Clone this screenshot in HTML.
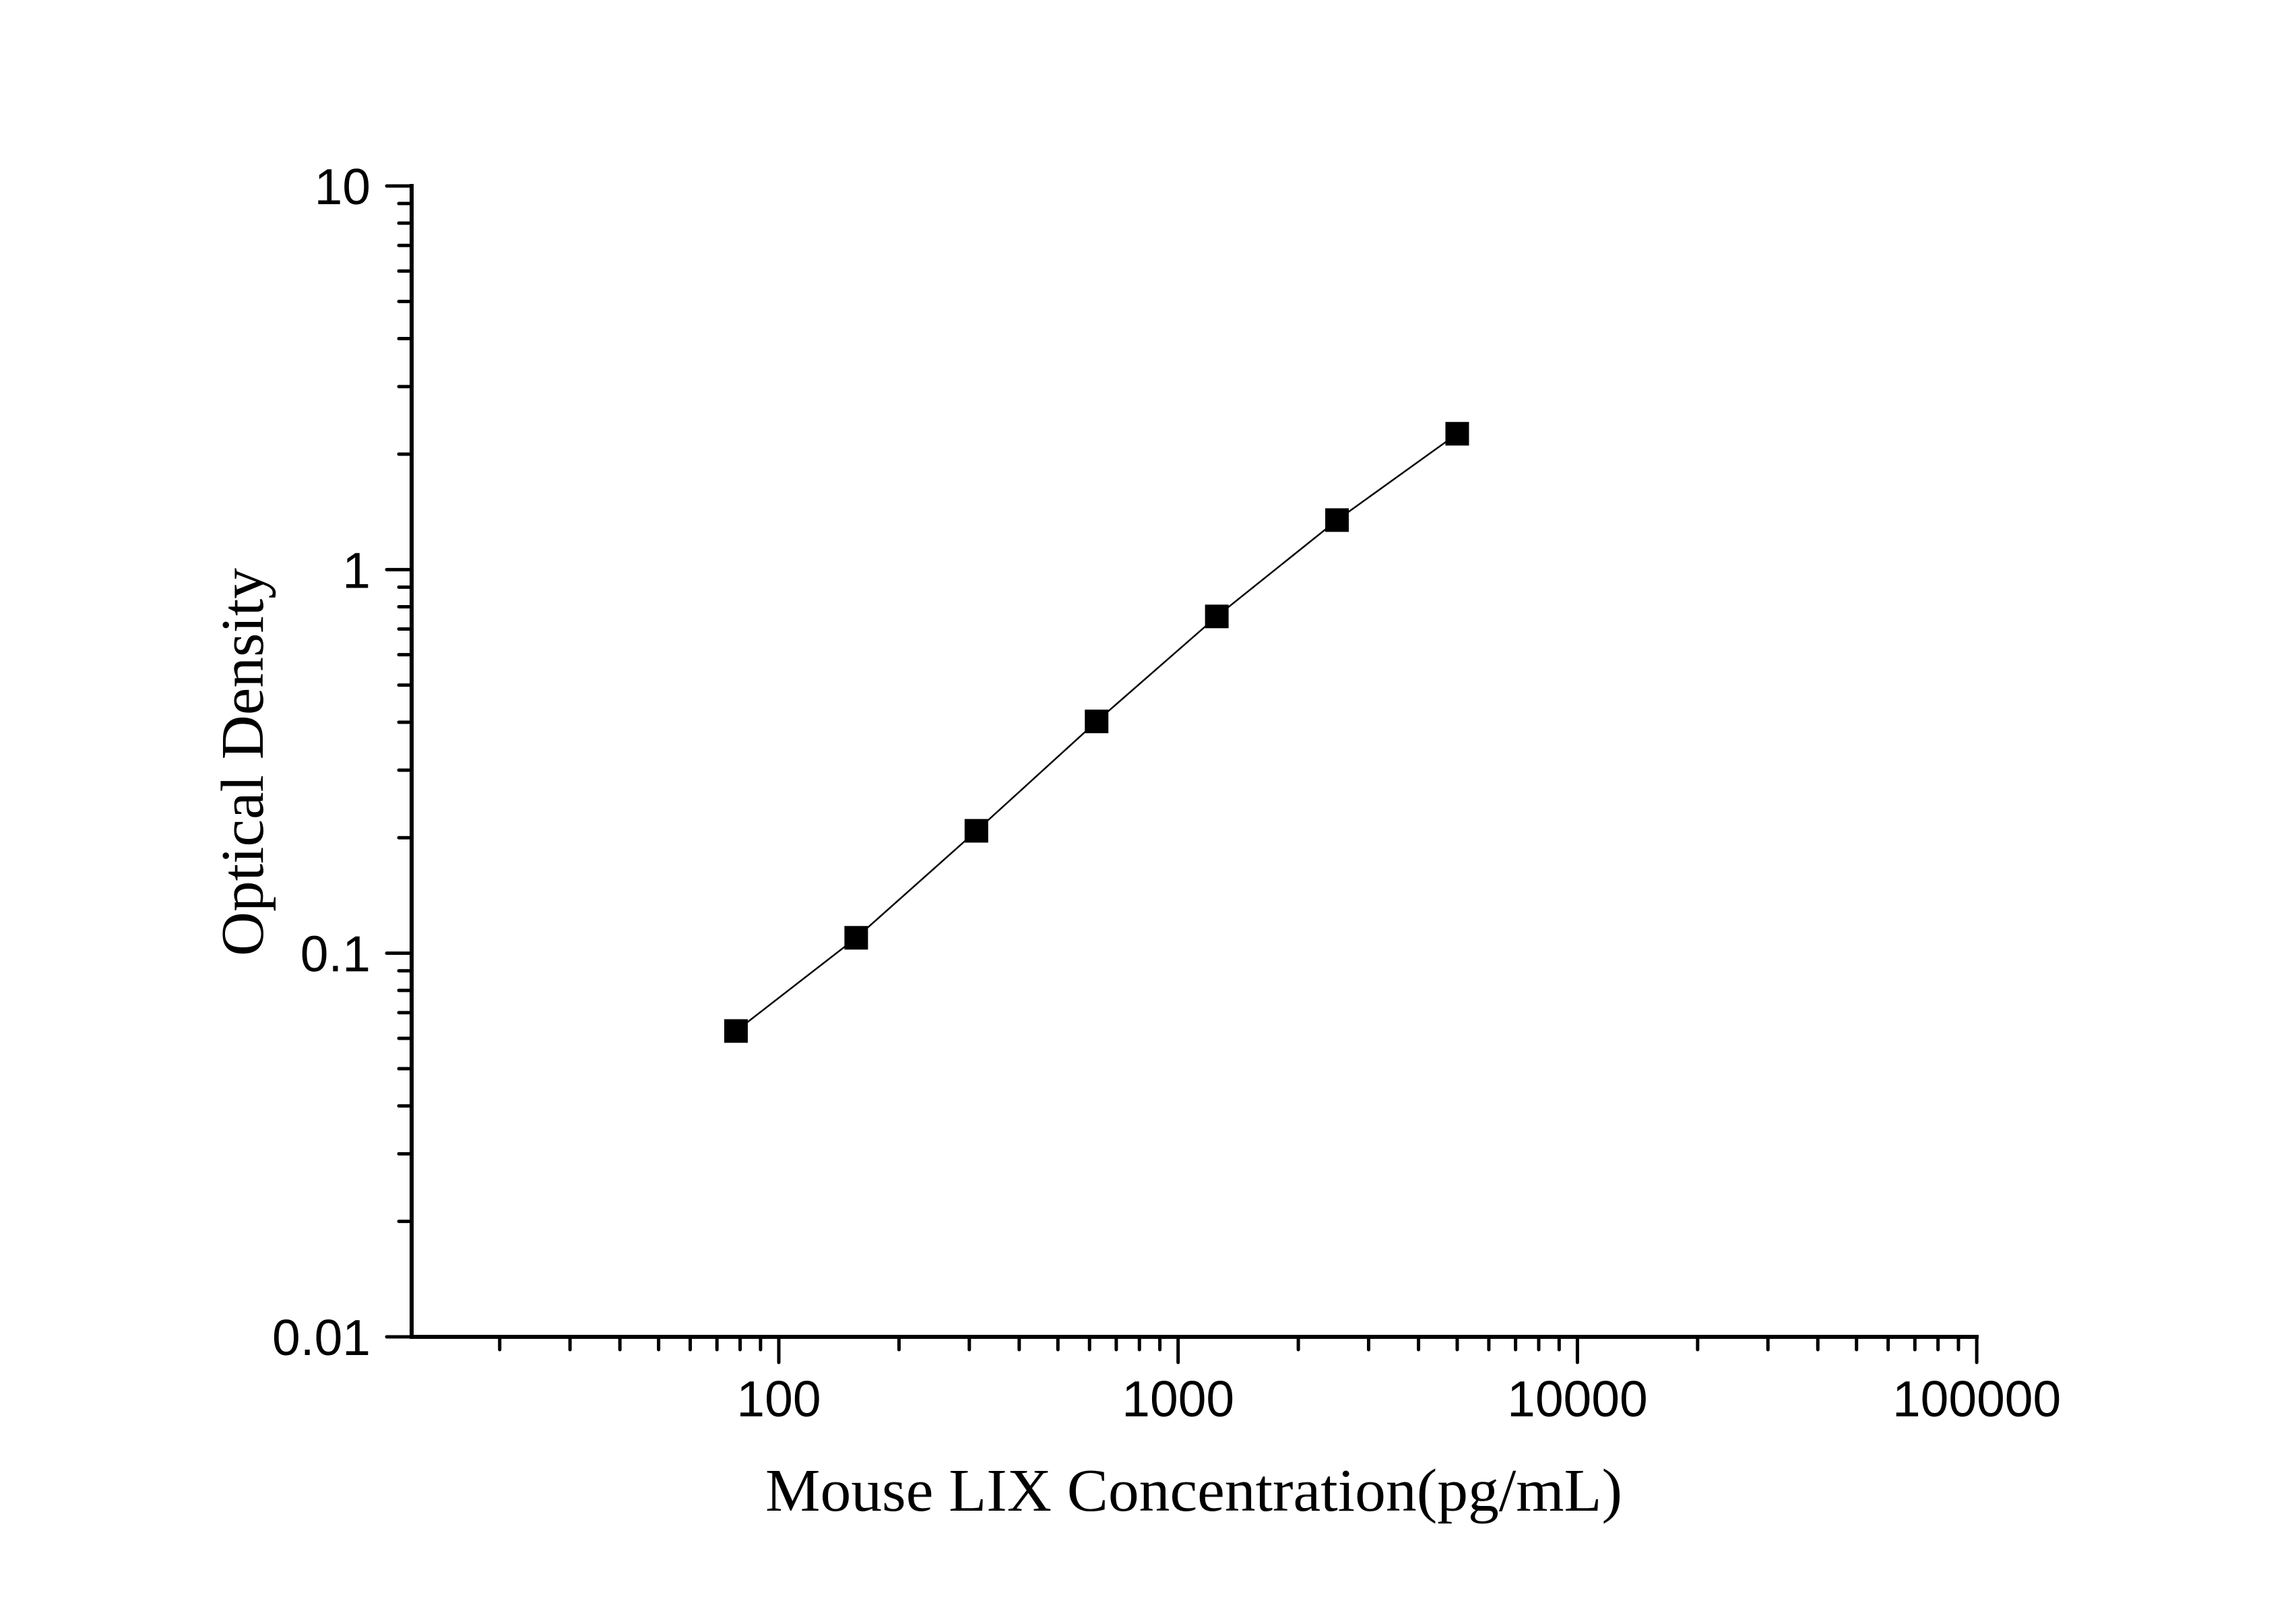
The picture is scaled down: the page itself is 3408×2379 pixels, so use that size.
<!DOCTYPE html>
<html><head><meta charset="utf-8"><style>
html,body{margin:0;padding:0;background:#fff;}
svg{display:block;}
</style></head><body>
<svg id="chart" width="3408" height="2379" viewBox="0 0 3408 2379" xmlns="http://www.w3.org/2000/svg">
<rect width="3408" height="2379" fill="#fff"/>
<g id="axes"></g>
<g id="series"></g>
<text x="1772" y="2242" text-anchor="middle" font-family="'Liberation Serif',serif" font-size="90" textLength="1272" lengthAdjust="spacingAndGlyphs">Mouse LIX Concentration(pg/mL)</text>
<text transform="translate(390,1131) rotate(-90)" text-anchor="middle" font-family="'Liberation Serif',serif" font-size="90" textLength="576" lengthAdjust="spacingAndGlyphs">Optical Density</text>
</svg>
<script>
const concentrations = [78.125, 156.25, 312.5, 625, 1250, 2500, 5000];
const odValues = [0.0627, 0.1097, 0.2085, 0.402, 0.755, 1.346, 2.26];
const xTickValues = [100, 1000, 10000, 100000];
const xTickLabels = ["100", "1000", "10000", "100000"];
const yTickValues = [0.01, 0.1, 1, 10];
const yTickLabels = ["0.01", "0.1", "1", "10"];

const NS = "http://www.w3.org/2000/svg";
const X0 = 611, XEND = 2934, Y0 = 1984, YTOP = 276;
const xMinLog = 2 - (1156 - 611) / 592.7;
const xDec = 592.7, yDec = (1984 - 276) / 3;
function xs(v){ return 1156 + (Math.log10(v) - 2) * xDec; }
function ys(v){ return Y0 - (Math.log10(v) + 2) * yDec; }
function mk(tag, attrs, parent){
  const e = document.createElementNS(NS, tag);
  for (const k in attrs) e.setAttribute(k, attrs[k]);
  parent.appendChild(e);
  return e;
}
const axes = document.getElementById('axes');
const series = document.getElementById('series');

let el = mk('line', {x1:X0, y1:YTOP-3, x2:X0, y2:Y0+3, stroke:'#000','stroke-width':6}, axes);


el = mk('line', {x1:X0-3, y1:Y0, x2:XEND+3, y2:Y0, stroke:'#000','stroke-width':6}, axes);



// x ticks
for (let d = 1; d <= 4; d++) {
  for (let m = 1; m <= 9; m++) {
    const v = m * Math.pow(10, d);
    const lv = Math.log10(v);
    if (lv < xMinLog || lv > 5.0001) continue;
    const x = xs(v);
    const major = (m === 1) || (lv > 4.9999);
    el = mk('line', {x1:x, y1:Y0, x2:x, y2:Y0 + (major ? 38 : 19), stroke:'#000','stroke-width':5,'stroke-linecap':'round'}, axes);
    
    
  }
}
el = mk('line', {x1:xs(100000), y1:Y0, x2:xs(100000), y2:Y0+38, stroke:'#000','stroke-width':5,'stroke-linecap':'round'}, axes);


xTickValues.forEach((v, i) => {
  const t = mk('text', {x:xs(v), y:2102, 'text-anchor':'middle','font-family':"'Liberation Sans',Arial,sans-serif",'font-size':75}, axes);
  t.textContent = xTickLabels[i];
  
  
});

// y ticks
for (let d = -2; d <= 1; d++) {
  for (let m = 1; m <= 9; m++) {
    const v = m * Math.pow(10, d);
    if (Math.log10(v) > 1.0001) continue;
    const y = ys(v);
    const major = m === 1;
    el = mk('line', {x1:X0, y1:y, x2:X0 - (major ? 37 : 19), y2:y, stroke:'#000','stroke-width':5,'stroke-linecap':'round'}, axes);
    
    
  }
}
yTickValues.forEach((v, i) => {
  const t = mk('text', {x:550, y:ys(v)+27, 'text-anchor':'end','font-family':"'Liberation Sans',Arial,sans-serif",'font-size':75}, axes);
  t.textContent = yTickLabels[i];
  
  
});

// line
const pts = concentrations.map((c, i) => xs(c).toFixed(1) + ',' + ys(odValues[i]).toFixed(1)).join(' ');
el = mk('polyline', {points:pts, fill:'none', stroke:'#000', 'stroke-width':2.5}, series);


concentrations.forEach((c, i) => {
  const s = 35;
  const r = mk('rect', {x:xs(c)-s/2, y:ys(odValues[i])-s/2, width:s, height:s, fill:'#000'}, series);
  
  
});
</script>
</body></html>
